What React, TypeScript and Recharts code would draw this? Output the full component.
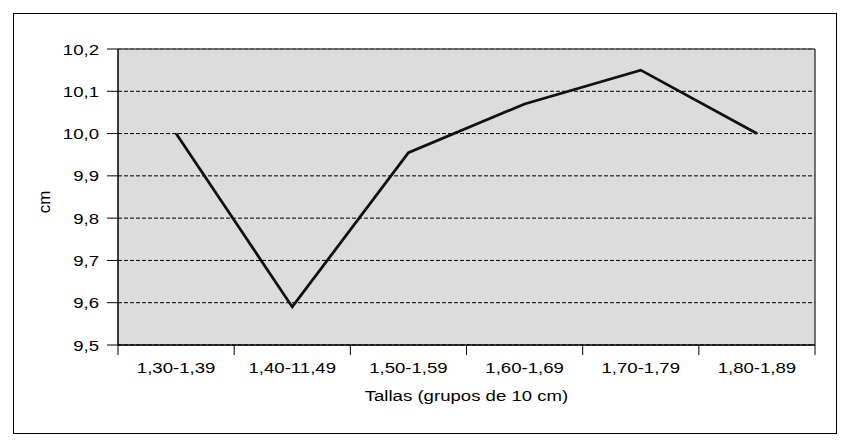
import { ComposedChart, Line, XAxis, YAxis, CartesianGrid, ReferenceLine } from "recharts";

const categories = ["1,30-1,39", "1,40-11,49", "1,50-1,59", "1,60-1,69", "1,70-1,79", "1,80-1,89"];
const values = [10.0, 9.59, 9.955, 10.07, 10.15, 10.0];
const yTicks = [9.5, 9.6, 9.7, 9.8, 9.9, 10.0, 10.1, 10.2];

const data = categories.map((c, i) => ({ name: c, cm: values[i] }));

const FONT = "'Liberation Sans', Arial, Helvetica, sans-serif";
const FS = 15.5;
const SX = 1.2; // the reference text is a bit stretched sideways
const fmt = (v: number) => v.toFixed(1).replace(".", ",");

const Txt = ({ x, y, anchor, children }: any) => (
  <text
    transform={`translate(${x} ${y}) scale(${SX} 1)`}
    textAnchor={anchor}
    fontSize={FS}
    fontFamily={FONT}
    fill="#000"
  >
    {children}
  </text>
);

// label in the middle of the band, tick line on the band boundaries
const XTick = (props: any) => {
  const { x, y, payload, index, visibleTicksCount } = props;
  const half = payload?.offset ?? 58;
  const top = y - 8;
  return (
    <g>
      <line x1={x - half} x2={x - half} y1={top} y2={top + 10} stroke="#000" />
      {index === (visibleTicksCount ?? categories.length) - 1 && (
        <line x1={x + half} x2={x + half} y1={top} y2={top + 10} stroke="#000" />
      )}
      <Txt x={x} y={top + 28} anchor="middle">
        {payload.value}
      </Txt>
    </g>
  );
};

const YTick = (props: any) => {
  const { x, y, payload } = props;
  return (
    <Txt x={x} y={y + 5.5} anchor="end">
      {fmt(payload.value)}
    </Txt>
  );
};

export default function App() {
  return (
    <div style={{ position: "absolute", left: 0, top: 0, width: 843, height: 443, background: "#fff" }}>
      <div
        style={{
          position: "absolute",
          left: 13,
          top: 13,
          width: 824,
          height: 421,
          border: "1.5px solid #000",
          boxSizing: "border-box",
        }}
      />
      <ComposedChart
        width={843}
        height={443}
        data={data}
        margin={{ top: 49, right: 28, bottom: 0, left: 0 }}
        style={{ position: "absolute", left: 0, top: 0 }}
      >
        <CartesianGrid
          vertical={false}
          fill="#dcdcdc"
          fillOpacity={1}
          stroke="#000"
          strokeDasharray="4 2"
        />
        {/* plot frame on the right side */}
        <CartesianGrid
          horizontal={false}
          verticalCoordinatesGenerator={({ offset }: any) => [offset.left + offset.width]}
          stroke="#444"
          strokeWidth={1.5}
        />
        <XAxis
          dataKey="name"
          scale="band"
          height={98}
          tickLine={false}
          axisLine={{ stroke: "#000", strokeWidth: 1.5 }}
          tick={<XTick />}
          interval={0}
          label={(p: any) => {
            const vb = p.viewBox;
            return (
              <Txt x={vb.x + vb.width / 2} y={vb.y + 56} anchor="middle">
                Tallas (grupos de 10 cm)
              </Txt>
            );
          }}
        />
        <YAxis
          width={118}
          domain={[9.5, 10.2]}
          ticks={yTicks}
          interval={0}
          tick={<YTick />}
          tickSize={11}
          tickMargin={8}
          tickLine={{ stroke: "#000" }}
          axisLine={{ stroke: "#000", strokeWidth: 1.5 }}
          label={() => {
            const cx = 50;
            const cy = 202;
            return (
              <text
                x={cx}
                y={cy}
                transform={`rotate(-90 ${cx} ${cy})`}
                textAnchor="middle"
                fontSize={17}
                fontFamily={FONT}
                fill="#000"
              >
                cm
              </text>
            );
          }}
        />
        <ReferenceLine y={10.2} stroke="#555" strokeWidth={1.5} />
        <Line
          type="linear"
          dataKey="cm"
          stroke="#111"
          strokeWidth={2.8}
          dot={false}
          activeDot={false}
          isAnimationActive={false}
        />
      </ComposedChart>
    </div>
  );
}
